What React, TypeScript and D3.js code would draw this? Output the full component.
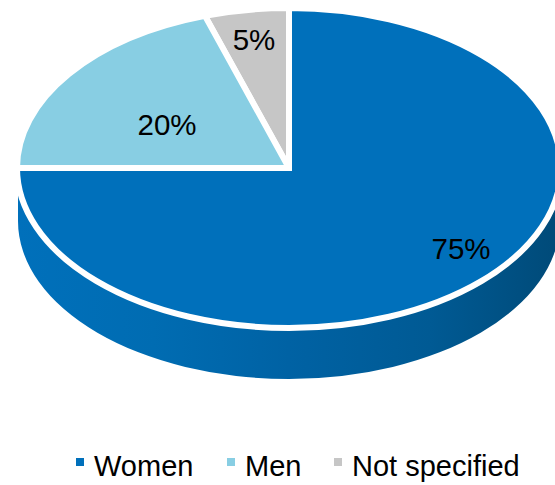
import React from "react";
import * as d3 from "d3";

const categories = ["Women", "Men", "Not specified"];
const shares = [75, 20, 5];
const colors = ["#0070bb", "#88cee3", "#c6c6c6"];

const width = 555;
const height = 485;
const cx = 289;
const cy = 168;
const rx = 272;
const ry = 160;
// the wall sits just inside the top face
const wallRx = 271;
const wallRy = 158;
const depth = 53;
const font = "'Liberation Sans', Arial, sans-serif";

// where the percent labels sit, same order as categories
const labelPos = [
  [461, 248],
  [167, 124],
  [254, 39],
];
const legendSwatchX = [76, 227, 334];
const legendTextX = [94, 245, 352];

export default function App() {
  const pie = d3
    .pie<number>()
    .value((d) => d)
    .sort(null);
  const arc = d3.arc<d3.PieArcDatum<number>>().innerRadius(0).outerRadius(rx);
  const slices = pie(shares);

  // outer wall of the disc, only the front half shows
  const wallPath = `M${cx - wallRx},${cy} L${cx - wallRx},${cy + depth} A${wallRx},${wallRy} 0 0 0 ${cx + wallRx},${cy + depth} L${cx + wallRx},${cy} A${wallRx},${wallRy} 0 0 1 ${cx - wallRx},${cy} Z`;

  // women last, so its fill hides the spike of the men slice's stroke at the centre
  const drawOrder = slices.map((s, i) => ({ s, i })).reverse();

  return (
    <svg
      width={width}
      height={height}
      style={{ position: "absolute", left: 0, top: 0, background: "#fff" }}
    >
      <defs>
        <linearGradient id="wallShade" x1="0" x2="1" y1="0" y2="0">
          <stop offset="0" stopColor="#0070bb" />
          <stop offset="0.25" stopColor="#006cb2" />
          <stop offset="0.5" stopColor="#0062a4" />
          <stop offset="0.76" stopColor="#005a94" />
          <stop offset="1" stopColor="#004a78" />
        </linearGradient>
      </defs>
      <path d={wallPath} fill="url(#wallShade)" />
      <g transform={`translate(${cx},${cy}) scale(1,${ry / rx})`}>
        {drawOrder.map(({ s, i }) => (
          <path
            key={categories[i]}
            d={arc(s) || ""}
            fill={colors[i]}
            stroke="#fff"
            strokeWidth={6}
            vectorEffect="non-scaling-stroke"
          />
        ))}
      </g>
      {shares.map((v, i) => (
        <text
          key={categories[i]}
          x={labelPos[i][0]}
          y={labelPos[i][1]}
          textAnchor="middle"
          dominantBaseline="central"
          fontFamily={font}
          fontSize={29.5}
          fill="#000"
        >
          {v}%
        </text>
      ))}
      {categories.map((c, i) => (
        <g key={c}>
          <rect
            x={legendSwatchX[i]}
            y={458}
            width={8}
            height={8}
            fill={colors[i]}
          />
          <text
            x={legendTextX[i]}
            y={476}
            fontFamily={font}
            fontSize={29}
            fill="#000"
          >
            {c}
          </text>
        </g>
      ))}
    </svg>
  );
}
